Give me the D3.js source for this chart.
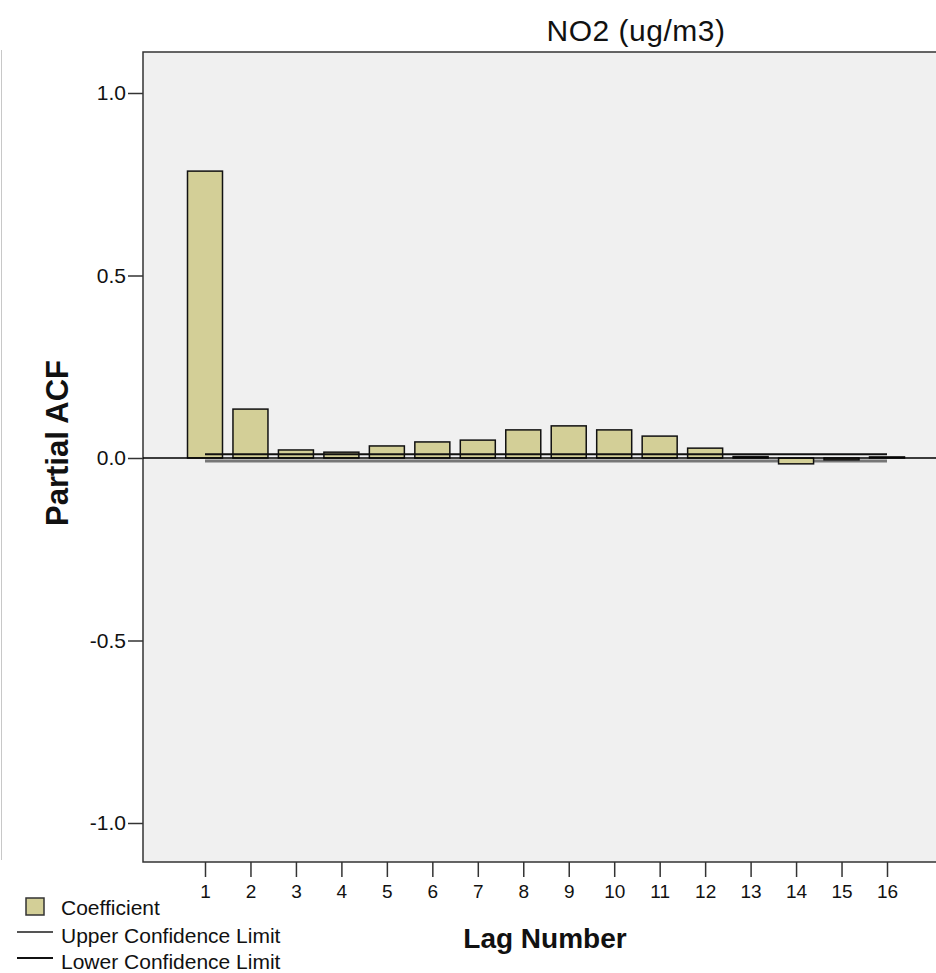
<!DOCTYPE html>
<html>
<head>
<meta charset="utf-8">
<script src="https://cdn.jsdelivr.net/npm/d3@7"></script>
<style>
  body { margin: 0; background: #fff; }
  svg { display: block; font-family: "Liberation Sans", Arial, sans-serif; }
</style>
</head>
<body>
<svg id="chart"></svg>
<script>
// data
const lags = [1, 2, 3, 4, 5, 6, 7, 8, 9, 10, 11, 12, 13, 14, 15, 16]
const coefficient = [0.786, 0.134, 0.022, 0.016, 0.033, 0.044, 0.049, 0.077, 0.088, 0.077, 0.060, 0.027, 0.004, -0.016, -0.005, 0.003]
const upperLimit = lags.map(() => 0.010)
const lowerLimit = lags.map(() => -0.008)
const yTicks = [1.0, 0.5, 0.0, -0.5, -1.0]
const chartTitle = "NO2 (ug/m3)"

let svgWidth = 936, svgHeight = 973
let plot = {left: 143, top: 52, right: 1131, bottom: 862} // plot frame runs past the right edge

let svg = d3.select("#chart")
    .attr("width", svgWidth)
    .attr("height", svgHeight)

let xScale = d3.scaleLinear() // lag -> centre of bar
    .domain([1, 16])
    .range([205, 887])

let yScale = d3.scaleLinear()
    .domain([-1, 1])
    .range([823, 93])

let barWidth = 35
let fmt = d => d3.format(".1f")(d).replace("\u2212", "-") // plain hyphen like the original

// thin line at the far left
svg.append("line")
    .attr("x1", 1.5).attr("x2", 1.5)
    .attr("y1", 50).attr("y2", 860)
    .attr("stroke", "#c8c8c8")
    .attr("stroke-width", 1)

// plot background + frame
svg.append("rect")
    .attr("x", plot.left)
    .attr("y", plot.top)
    .attr("width", plot.right - plot.left)
    .attr("height", plot.bottom - plot.top)
    .attr("fill", "#f0f0f0")
    .attr("stroke", "#333")
    .attr("stroke-width", 1.5)

// confidence limits
let limitLine = d3.line()
    .x((d, i) => xScale(lags[i]))
    .y(d => yScale(d))

svg.append("path")
    .datum(lowerLimit)
    .attr("d", limitLine)
    .attr("fill", "none")
    .attr("stroke", "#777")
    .attr("stroke-width", 3)

// bars
svg.selectAll("rect.bar")
    .data(coefficient)
    .enter()
    .append("rect")
    .attr("class", "bar")
    .attr("x", (d, i) => xScale(lags[i]) - barWidth / 2)
    .attr("y", d => yScale(Math.max(d, 0)))
    .attr("width", barWidth)
    .attr("height", d => Math.abs(yScale(d) - yScale(0)))
    .attr("fill", "#d3cf97")
    .attr("stroke", "#111")
    .attr("stroke-width", 1.5)

svg.append("path")
    .datum(upperLimit)
    .attr("d", limitLine)
    .attr("fill", "none")
    .attr("stroke", "#111")
    .attr("stroke-width", 2)

// zero reference line
svg.append("line")
    .attr("x1", plot.left).attr("x2", svgWidth)
    .attr("y1", yScale(0)).attr("y2", yScale(0))
    .attr("stroke", "#000")
    .attr("stroke-width", 1.5)

// y axis
let yAxis = d3.axisLeft(yScale)
    .tickValues(yTicks)
    .tickFormat(fmt)
    .tickSize(15)
    .tickPadding(2)

let gy = svg.append("g")
    .attr("transform", `translate(${plot.left}, 0)`)
    .call(yAxis)
gy.select(".domain").remove()
gy.selectAll("line").attr("stroke", "#333").attr("stroke-width", 1.5)
gy.selectAll("text").attr("font-size", 21).attr("fill", "#111")
    .attr("font-family", "Liberation Sans, Arial, sans-serif")

// x axis
let xAxis = d3.axisBottom(xScale)
    .tickValues(lags)
    .tickFormat(d3.format("d"))
    .tickSize(15)
    .tickPadding(8)

let gx = svg.append("g")
    .attr("transform", `translate(0, ${plot.bottom})`)
    .call(xAxis)
gx.select(".domain").remove()
gx.selectAll("line").attr("stroke", "#333").attr("stroke-width", 1.5)
gx.selectAll("text").attr("font-size", 19).attr("fill", "#111")
    .attr("font-family", "Liberation Sans, Arial, sans-serif")

// titles
svg.append("text")
    .attr("x", 636).attr("y", 41)
    .attr("text-anchor", "middle")
    .attr("font-size", 30)
    .attr("letter-spacing", 0.5)
    .attr("fill", "#111")
    .text(chartTitle)

svg.append("text")
    .attr("x", 545).attr("y", 948)
    .attr("text-anchor", "middle")
    .attr("font-size", 28)
    .attr("font-weight", "bold")
    .attr("fill", "#111")
    .text("Lag Number")

svg.append("text")
    .attr("transform", `translate(68, 443) rotate(-90)`)
    .attr("text-anchor", "middle")
    .attr("font-size", 31)
    .attr("font-weight", "bold")
    .attr("fill", "#111")
    .text("Partial ACF")

// legend
let legend = svg.append("g")
legend.append("rect")
    .attr("x", 26).attr("y", 898)
    .attr("width", 18).attr("height", 17)
    .attr("fill", "#d3cf97")
    .attr("stroke", "#333")
    .attr("stroke-width", 1.5)
legend.append("text")
    .attr("x", 61).attr("y", 915)
    .attr("font-size", 21).attr("fill", "#111")
    .text("Coefficient")

let legendLines = [
    {label: "Upper Confidence Limit", color: "#555", y: 932},
    {label: "Lower Confidence Limit", color: "#111", y: 958}
]
legendLines.forEach(l => {
    legend.append("line")
        .attr("x1", 17).attr("x2", 53)
        .attr("y1", l.y).attr("y2", l.y)
        .attr("stroke", l.color)
        .attr("stroke-width", 2)
    legend.append("text")
        .attr("x", 61).attr("y", l.y + 11)
        .attr("font-size", 21).attr("fill", "#111")
        .text(l.label)
})
</script>
</body>
</html>
